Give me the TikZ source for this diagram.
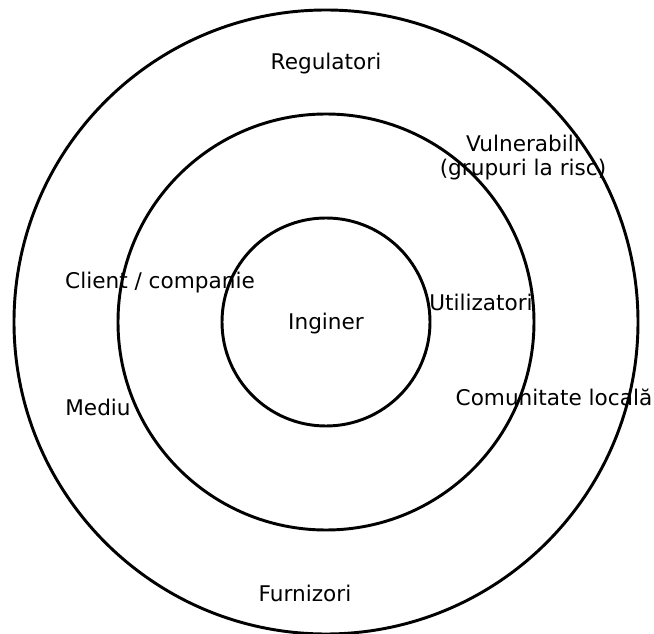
\documentclass[tikz,border=0pt]{standalone}
\usepackage{fontspec}
\setmainfont{DejaVu Sans}

\begin{document}
\begin{tikzpicture}[
    x = 0.75pt,
    y = -0.75pt,
    every node/.style = {font = \fontsize{16.2}{18}\selectfont, align = center, inner sep = 0pt, yshift = -1.5pt},
    ring/.style = {draw, line width = 2.2pt}
  ]
    \useasboundingbox (0, 0) rectangle (654, 634);
    \node (regulatori) at (326, 62) {Regulatori};
    \node (vulnerabili) at (523, 156) {Vulnerabili\\(grupuri la risc)};
    \node (client) at (160, 281) {Client / companie};
    \node (utilizatori) at (481, 300) {Utilizatori};
    \node (inginer) at (326, 322) {Inginer};
    \node (comunitate) at (554, 395) {Comunitate locală};
    \node (mediu) at (98, 405) {Mediu};
    \node (furnizori) at (305, 591) {Furnizori};
    \draw[ring] (326, 322) circle [radius = 312];
    \draw[ring] (326, 322) circle [radius = 208];
    \draw[ring] (326, 322) circle [radius = 104];
  \end{tikzpicture}
\end{document}
